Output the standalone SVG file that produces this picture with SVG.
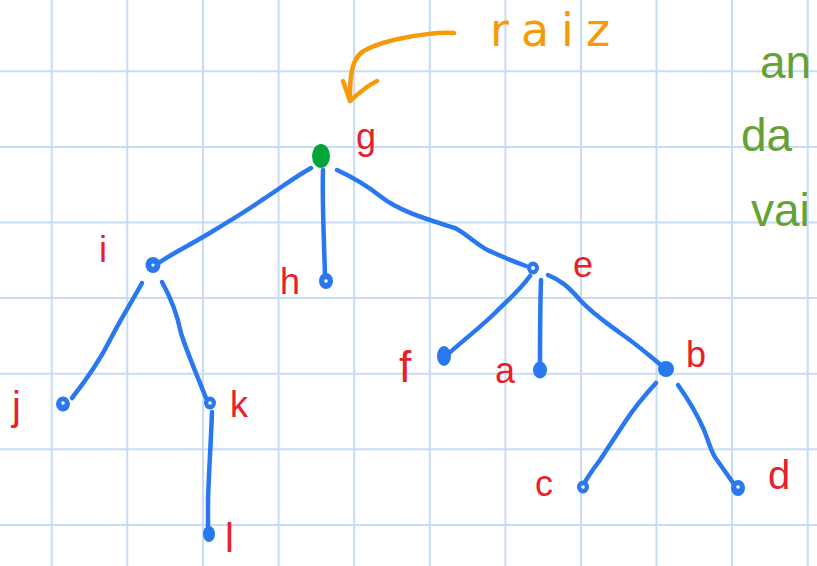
<svg xmlns="http://www.w3.org/2000/svg" width="817" height="566" viewBox="0 0 817 566">
<style>
.grid line{stroke:#c8dcf6;stroke-width:2}
.edge{fill:none;stroke:#2a78f0;stroke-width:4.5;stroke-linecap:round;stroke-linejoin:round}
.dot{fill:#2a78f0}
.hole{fill:#ffffff}
.lbl{fill:#e8202a;font-family:"Liberation Sans",Arial,sans-serif;font-size:36px}
.note{fill:#65a233;font-family:"Liberation Sans",Arial,sans-serif;font-size:46px}
.root{fill:#f79a0a;font-family:"DejaVu Sans",sans-serif;font-size:46px;letter-spacing:12px}
.arrow{fill:none;stroke:#f79a0a;stroke-width:4.5;stroke-linecap:round;stroke-linejoin:round}
</style>
<rect width="817" height="566" fill="#ffffff"/>
<g class="grid">
<line x1="51.7" y1="0" x2="51.7" y2="566"/>
<line x1="127.3" y1="0" x2="127.3" y2="566"/>
<line x1="203" y1="0" x2="203" y2="566"/>
<line x1="278.6" y1="0" x2="278.6" y2="566"/>
<line x1="354.2" y1="0" x2="354.2" y2="566"/>
<line x1="429.8" y1="0" x2="429.8" y2="566"/>
<line x1="505.4" y1="0" x2="505.4" y2="566"/>
<line x1="581" y1="0" x2="581" y2="566"/>
<line x1="656.5" y1="0" x2="656.5" y2="566"/>
<line x1="732.1" y1="0" x2="732.1" y2="566"/>
<line x1="807.7" y1="0" x2="807.7" y2="566"/>
<line x1="0" y1="71.3" x2="817" y2="71.3"/>
<line x1="0" y1="146.9" x2="817" y2="146.9"/>
<line x1="0" y1="222.5" x2="817" y2="222.5"/>
<line x1="0" y1="298.1" x2="817" y2="298.1"/>
<line x1="0" y1="373.7" x2="817" y2="373.7"/>
<line x1="0" y1="449.3" x2="817" y2="449.3"/>
<line x1="0" y1="524.9" x2="817" y2="524.9"/>
</g>
<g id="connectors">
<path class="edge" d="M311,168 C290,180 278,190 262,200 C245,212 228,222 208,234 C190,245 175,252 160,262"/>
<path class="edge" d="M323,170 C322,200 324,240 325,276"/>
<path class="edge" d="M337,170 C350,176 365,184 380,196 C400,212 430,220 455,228 C470,236 480,248 492,252 C505,258 515,262 526,266"/>
<path class="edge" d="M142,283 C130,305 120,320 110,340 C100,360 90,375 72,398"/>
<path class="edge" d="M162,282 C172,300 178,318 181,333 C186,350 195,370 206,398"/>
<path class="edge" d="M212,412 C211,440 209,470 208,500 C208,512 208,522 208,530"/>
<path class="edge" d="M530,276 C520,290 508,300 496,312 C482,326 466,338 448,354"/>
<path class="edge" d="M541,280 C540,310 540,340 540,368"/>
<path class="edge" d="M548,275 C560,280 568,286 580,300 C595,316 610,325 620,333 C635,343 645,352 662,366"/>
<path class="edge" d="M656,383 C645,395 636,405 625,422 C615,437 608,448 600,460 C594,468 588,476 584,484"/>
<path class="edge" d="M678,385 C690,402 698,416 704,430 C710,445 712,455 717,460 C724,470 730,478 735,486"/>
<path class="arrow" d="M454,33 C440,32 415,35 398,39 C385,42 365,47 358,56 C350,66 350,85 350,100"/>
<path class="arrow" d="M343,81 L350,101 C360,92 368,85 377,81"/>
</g>
<g id="node-g">
<ellipse cx="321" cy="156" rx="9" ry="12" fill="#00a63a"/>
<text class="lbl" x="356" y="149">g</text>
</g>
<g id="node-i">
<ellipse cx="153" cy="265" rx="7.5" ry="8"  class="dot"/>
<circle cx="153" cy="265" r="1.6" class="hole"/>
<text class="lbl" x="99" y="262">i</text>
</g>
<g id="node-h">
<ellipse cx="326" cy="281" rx="7" ry="8" class="dot"/>
<circle cx="326" cy="281" r="1.8" class="hole"/>
<text class="lbl" x="280" y="294">h</text>
</g>
<g id="node-e">
<ellipse cx="533" cy="268" rx="6" ry="6.5" class="dot"/>
<circle cx="533" cy="268" r="2" class="hole"/>
<text class="lbl" x="573" y="277">e</text>
</g>
<g id="node-j">
<ellipse cx="63" cy="404" rx="7" ry="7.5" class="dot"/>
<circle cx="63" cy="403" r="1.8" class="hole"/>
<text class="lbl" x="12" y="420" style="font-size:40px">j</text>
</g>
<g id="node-k">
<ellipse cx="210" cy="403" rx="6" ry="6.5" class="dot"/>
<circle cx="210" cy="403" r="1.8" class="hole"/>
<text class="lbl" x="230" y="417">k</text>
</g>
<g id="node-l">
<ellipse cx="209" cy="534" rx="6" ry="8" class="dot"/>
<text class="lbl" x="225" y="552" style="font-size:40px">l</text>
</g>
<g id="node-f">
<ellipse cx="444" cy="356" rx="7" ry="10" class="dot"/>
<text class="lbl" x="399" y="382" style="font-size:44px">f</text>
</g>
<g id="node-a">
<ellipse cx="540" cy="370" rx="7" ry="8.5" class="dot"/>
<text class="lbl" x="495" y="383">a</text>
</g>
<g id="node-b">
<ellipse cx="666" cy="369" rx="8" ry="8" class="dot"/>
<text class="lbl" x="686" y="367">b</text>
</g>
<g id="node-c">
<ellipse cx="583" cy="487" rx="6" ry="6.5" class="dot"/>
<circle cx="583" cy="487" r="1.8" class="hole"/>
<text class="lbl" x="535" y="496">c</text>
</g>
<g id="node-d">
<ellipse cx="738" cy="488" rx="7" ry="8" class="dot"/>
<circle cx="738" cy="487" r="1.8" class="hole"/>
<text class="lbl" x="768" y="489" style="font-size:40px">d</text>
</g>
<g id="label-raiz">
<text class="root" x="490" y="46">raiz</text>
</g>
<g id="label-note">
<text class="note" x="760" y="78">an</text>
<text class="note" x="741" y="151">da</text>
<text class="note" x="751" y="226">vai</text>
</g>
</svg>
